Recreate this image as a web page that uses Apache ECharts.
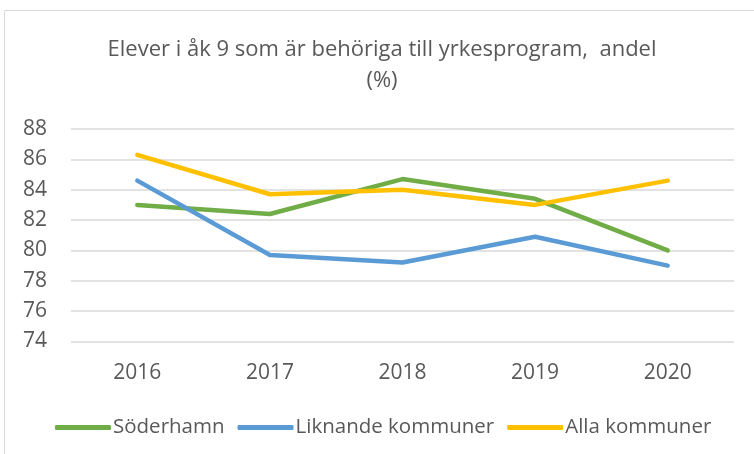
<!DOCTYPE html>
<html>
<head>
<meta charset="utf-8">
<script src="https://cdn.jsdelivr.net/npm/echarts@6/dist/echarts.min.js"></script>
<style>
html, body { margin: 0; padding: 0; background: #fff; }
#chart { width: 754px; height: 454px; }
</style>
</head>
<body>
<div id="chart"></div>
<script>
var years = ['2016', '2017', '2018', '2019', '2020'];
var soderhamn = [83.0, 82.4, 84.7, 83.4, 80.0];
var liknande = [84.6, 79.7, 79.2, 80.9, 79.0];
var alla = [86.3, 83.7, 84.0, 83.0, 84.6];

var textColor = '#595959';
var font = 'Open Sans';

var myChart = echarts.init(document.getElementById('chart'));
var option = {
    animation: false,
    color: ['#70AD47', '#5B9BD5', '#FFC000'],
    graphic: [{
        type: 'rect',
        shape: { x: 4.5, y: 10.5, width: 800, height: 500 },
        style: { fill: 'none', stroke: '#d9d9d9', lineWidth: 1 },
        silent: true
    }],
    title: {
        text: 'Elever i åk 9 som är behöriga till yrkesprogram,  andel\n(%)',
        left: 377,
        textAlign: 'center',
        top: 29,
        textStyle: {
            color: textColor,
            fontFamily: font,
            fontWeight: 'normal',
            fontSize: 22,
            lineHeight: 31
        }
    },
    legend: {
        top: 412,
        left: 50,
        itemWidth: 56,
        itemHeight: 5,
        itemGap: 13,
        icon: 'roundRect',
        textStyle: { color: textColor, fontFamily: font, fontSize: 20.5, padding: [0, 0, 0, -3] },
        data: ['Söderhamn', 'Liknande kommuner', 'Alla kommuner']
    },
    grid: {
        left: 71,
        right: 20,
        top: 129,
        bottom: 112.5
    },
    xAxis: {
        type: 'category',
        data: years,
        boundaryGap: true,
        axisLine: { show: false },
        axisTick: { show: false },
        axisLabel: { color: textColor, fontFamily: font, fontSize: 21, margin: 21 }
    },
    yAxis: {
        type: 'value',
        min: 74,
        max: 88,
        interval: 2,
        axisLine: { show: false },
        axisTick: { show: false },
        axisLabel: { color: textColor, fontFamily: font, fontSize: 21, margin: 24 },
        splitLine: { lineStyle: { color: '#d9d9d9', width: 1.5 } }
    },
    series: [
        {
            name: 'Söderhamn',
            type: 'line',
            data: soderhamn,
            symbol: 'none',
            lineStyle: { width: 4.5, cap: 'round', join: 'round' }
        },
        {
            name: 'Liknande kommuner',
            type: 'line',
            data: liknande,
            symbol: 'none',
            lineStyle: { width: 4.5, cap: 'round', join: 'round' }
        },
        {
            name: 'Alla kommuner',
            type: 'line',
            data: alla,
            symbol: 'none',
            lineStyle: { width: 4.5, cap: 'round', join: 'round' }
        }
    ]
};
myChart.setOption(option);
</script>
</body>
</html>
